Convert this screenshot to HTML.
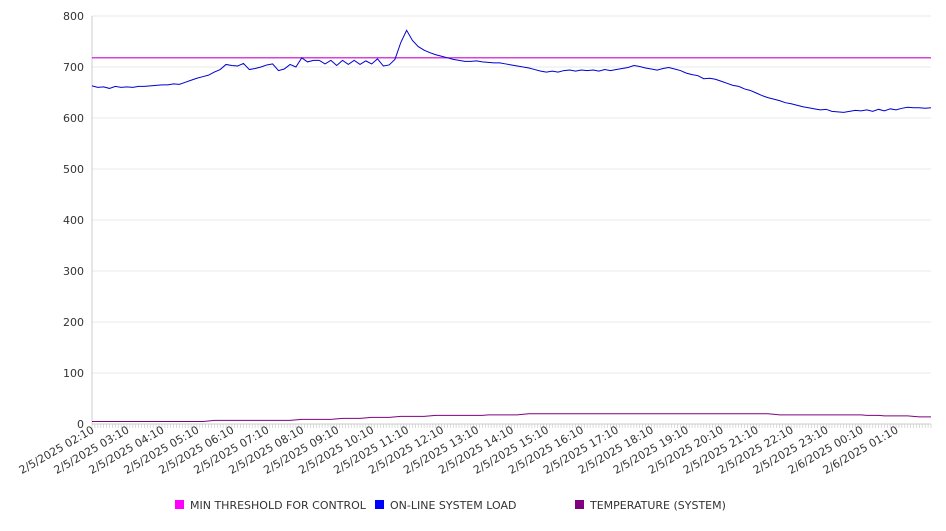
<!DOCTYPE html>
<html><head><meta charset="utf-8"><style>
body{margin:0;background:#fff;font-family:"Liberation Sans","DejaVu Sans",sans-serif}
svg text{font-family:"DejaVu Sans","Liberation Sans",sans-serif;fill:#333}
</style></head><body>
<svg id="chart" width="946" height="526" xmlns="http://www.w3.org/2000/svg"></svg>
<script>
const yTicks=[0,100,200,300,400,500,600,700,800];
const xLabels=["2/5/2025 02:10","2/5/2025 03:10","2/5/2025 04:10","2/5/2025 05:10","2/5/2025 06:10","2/5/2025 07:10","2/5/2025 08:10","2/5/2025 09:10","2/5/2025 10:10","2/5/2025 11:10","2/5/2025 12:10","2/5/2025 13:10","2/5/2025 14:10","2/5/2025 15:10","2/5/2025 16:10","2/5/2025 17:10","2/5/2025 18:10","2/5/2025 19:10","2/5/2025 20:10","2/5/2025 21:10","2/5/2025 22:10","2/5/2025 23:10","2/6/2025 00:10","2/6/2025 01:10"];
const threshold=718;
const load=[663,660,661,658,662,660,661,660,662,662,663,664,665,665,667,666,670,674,678,681,684,690,695,705,703,702,707,695,697,700,704,706,693,696,705,700,718,710,713,713,706,713,703,713,705,713,705,712,706,716,702,704,715,748,772,752,740,733,728,724,721,718,715,713,711,711,712,710,709,708,708,706,704,702,700,698,695,692,690,692,690,693,694,692,694,693,694,692,695,693,695,697,699,703,701,698,696,694,697,699,696,693,688,685,683,677,678,676,672,668,664,662,657,654,649,644,640,637,634,630,628,625,622,620,618,616,617,613,612,611,613,615,614,616,613,617,614,618,616,619,621,620,620,619,620];
const temp=[5,5,5,5,5,5,5,5,5,5,5,5,5,5,5,5,5,5,5,5,6,7,7,7,7,7,7,7,7,7,7,7,7,7,7,8,9,9,9,9,9,9,10,11,11,11,11,12,13,13,13,13,14,15,15,15,15,15,16,17,17,17,17,17,17,17,17,17,18,18,18,18,18,18,19,20,20,20,20,20,20,20,20,20,20,20,20,20,20,20,20,20,20,20,20,20,20,20,20,20,20,20,20,20,20,20,20,20,20,20,20,20,20,20,20,20,20,19,18,18,18,18,18,18,18,18,18,18,18,18,18,18,18,17,17,17,16,16,16,16,16,15,14,14,14];
const NS="http://www.w3.org/2000/svg";
const svg=document.getElementById('chart');
const X0=92,X1=931,Y0=424,Y1=16;
const N=load.length;
const sx=i=>X0+(X1-X0)*i/(N-1);
const sy=v=>Y0-(Y0-Y1)*v/800;
const hourStep=(X1-X0)/24;
function mk(tag,attrs,parent){const e=document.createElementNS(NS,tag);for(const k in attrs)e.setAttribute(k,attrs[k]);(parent||svg).appendChild(e);return e;}
yTicks.forEach(t=>{
 const g=mk('line',{x1:X0,x2:X1,y1:sy(t),y2:sy(t),stroke:t===0?'#ccc':'#e8e8e8'});
 
 
 const tx=mk('text',{x:84,y:sy(t)+4,'text-anchor':'end','font-size':11});
 tx.textContent=t;
 
 
});
const ax=mk('line',{x1:X0,x2:X0,y1:Y1,y2:Y0,stroke:'#ccc'});


for(let i=0;i<2*N-1;i++){const m=mk('line',{x1:X0+(X1-X0)*i/(2*N-2),x2:X0+(X1-X0)*i/(2*N-2),y1:Y0,y2:Y0+4,stroke:'#ccc','stroke-width':0.7});}
xLabels.forEach((l,i)=>{
 const x=X0+i*hourStep+3,y=432;
 const t=mk('text',{x:x,y:y,'text-anchor':'end','font-size':11,transform:`rotate(-30 ${x} ${y})`});
 t.textContent=l;
 
 
});
function line(vals,color,name){
 const p=mk('polyline',{points:vals.map((v,i)=>sx(i)+','+sy(v)).join(' '),fill:'none',stroke:color,'stroke-width':1});
 
 
}
line(temp,'#800080','temperature-line');
const th=mk('line',{x1:X0,x2:X1,y1:sy(threshold),y2:sy(threshold),stroke:'#d000d0','stroke-width':1.2});


line(load,'#0000d0','online-load-line');
const legend=[["MIN THRESHOLD FOR CONTROL","#ff00ff",175],["ON-LINE SYSTEM LOAD","#0000ff",375],["TEMPERATURE (SYSTEM)","#800080",575]];
legend.forEach(([t,c,x])=>{
 const g=mk('g',{});
 
 
 mk('rect',{x:x,y:500,width:9,height:9,fill:c},g);
 const tx=mk('text',{x:x+15,y:509,'font-size':11},g);
 tx.textContent=t;
});
</script>
</body></html>
